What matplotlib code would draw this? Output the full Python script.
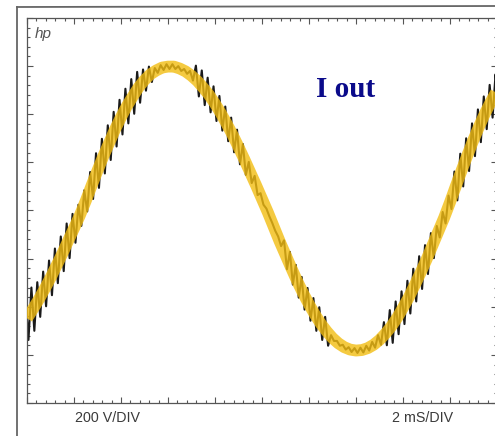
import numpy as np
import matplotlib.pyplot as plt
from matplotlib.lines import Line2D
from matplotlib.ticker import MultipleLocator

# scope trace: time in ms (2 ms/div), current in divisions
t_ms = np.arange(0, 20.01, 0.25)

# centre of the output current (yellow band)
i_out_div = [
    -2.24, -2.05, -1.85, -1.63, -1.40, -1.15, -0.90, -0.63, -0.37, -0.10,
    0.20, 0.52, 0.83, 1.13, 1.41, 1.69, 1.94, 2.17, 2.37, 2.56,
    2.71, 2.83, 2.91, 2.97, 2.99, 2.99, 2.95, 2.89, 2.80, 2.69,
    2.55, 2.40, 2.22, 2.02, 1.80, 1.57, 1.32, 1.06, 0.79, 0.52,
    0.24, -0.04, -0.34, -0.64, -0.92, -1.20, -1.47, -1.72, -1.95, -2.16,
    -2.35, -2.51, -2.65, -2.76, -2.84, -2.89, -2.91, -2.90, -2.86, -2.79,
    -2.69, -2.56, -2.41, -2.23, -2.02, -1.80, -1.55, -1.29, -1.02, -0.73,
    -0.44, -0.15, 0.17, 0.51, 0.84, 1.16, 1.47, 1.76, 2.03, 2.27,
    2.49,
]

# half height of the switching ripple on the raw trace
ripple_div = [
    0.45, 0.45, 0.36, 0.36, 0.36, 0.36, 0.36, 0.36, 0.30, 0.22,
    0.22, 0.28, 0.36, 0.36, 0.36, 0.36, 0.36, 0.36, 0.36, 0.32,
    0.22, 0.16, 0.05, 0.05, 0.05, 0.05, 0.05, 0.05, 0.10, 0.32,
    0.36, 0.36, 0.36, 0.36, 0.36, 0.36, 0.36, 0.32, 0.22, 0.20,
    0.12, 0.08, 0.08, 0.10, 0.30, 0.34, 0.34, 0.34, 0.34, 0.34,
    0.34, 0.30, 0.06, 0.05, 0.05, 0.05, 0.05, 0.05, 0.05, 0.06,
    0.10, 0.24, 0.34, 0.34, 0.34, 0.34, 0.34, 0.34, 0.30, 0.26,
    0.12, 0.12, 0.14, 0.30, 0.34, 0.34, 0.34, 0.34, 0.34, 0.34,
    0.34,
]

c = np.array(i_out_div)
a = np.array(ripple_div)

# raw trace: one up/down stroke per sample
raw_t = np.column_stack([t_ms - 0.0625, t_ms + 0.0625]).ravel()
raw_i = np.column_stack([c + a, c - a]).ravel()

fig = plt.figure(figsize=(4.95, 4.36), dpi=100)
fig.patch.set_facecolor('white')
ax = fig.add_axes([27 / 495, 33 / 436, 470 / 495, 385 / 436])

ax.plot(raw_t, raw_i, color='#1a1a1a', lw=1.5, zorder=2)
ax.plot(t_ms, c, color=(0.95, 0.74, 0.07), lw=8.5, alpha=0.8,
        solid_capstyle='butt', zorder=3)

ax.set_xlim(0, 20)
ax.set_ylim(-4, 4)
ax.xaxis.set_major_locator(MultipleLocator(2))
ax.xaxis.set_minor_locator(MultipleLocator(0.4))
ax.yaxis.set_major_locator(MultipleLocator(1))
ax.yaxis.set_minor_locator(MultipleLocator(0.2))
ax.tick_params(which='both', direction='in', top=True, right=True,
               labelbottom=False, labelleft=False, color='#555555', width=0.8)
ax.tick_params(which='major', length=4.5)
ax.tick_params(which='minor', length=2.2)
for sp in ax.spines.values():
    sp.set_color('#555555')
    sp.set_linewidth(0.9)

# outer screen frame
fig.add_artist(Line2D([17 / 495, 17 / 495], [0, 1 - 7 / 436],
                      transform=fig.transFigure, color='#666666', lw=1.3))
fig.add_artist(Line2D([17 / 495, 1], [1 - 7 / 436, 1 - 6 / 436],
                      transform=fig.transFigure, color='#666666', lw=1.3))

fig.text(35 / 495, 1 - 38 / 436, 'hp', fontsize=11, style='italic',
         color='#555555', family='Liberation Sans')
fig.text(346 / 495, 1 - 97 / 436, 'I out', fontsize=21, fontweight='bold',
         color='#0a0a8a', family='Liberation Serif', ha='center', va='baseline')
fig.text(75 / 495, 1 - 422 / 436, '200 V/DIV', fontsize=10.3,
         color='#3a3a3a', family='Liberation Sans', va='baseline')
fig.text(392 / 495, 1 - 422 / 436, '2 mS/DIV', fontsize=10.3,
         color='#3a3a3a', family='Liberation Sans', va='baseline')

fig.savefig('out.png', dpi=100)
